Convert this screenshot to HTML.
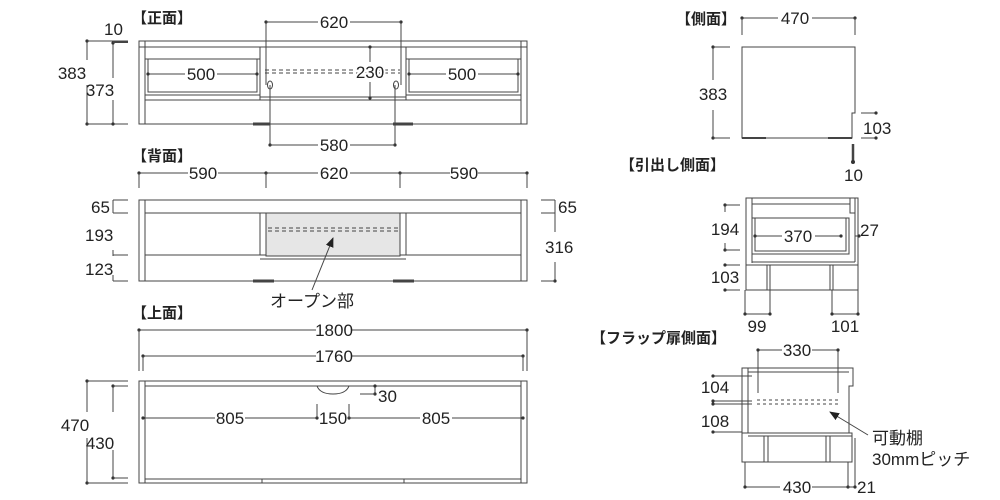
<!DOCTYPE html>
<html><head><meta charset="utf-8"><style>
body{margin:0;background:#fff}
svg{display:block}
text{font-family:"Liberation Sans","Noto Sans CJK JP",sans-serif;font-size:17px;fill:#222}
.t{font-weight:bold;font-size:15px}
</style></head><body>
<svg width="1000" height="500" viewBox="0 0 1000 500" xmlns="http://www.w3.org/2000/svg">
<defs><marker id="d" viewBox="0 0 4 4" refX="2" refY="2" markerWidth="4" markerHeight="4" markerUnits="userSpaceOnUse"><circle cx="2" cy="2" r="1.6" fill="#333"/></marker>
<marker id="ar" viewBox="0 0 10 10" refX="9" refY="5" markerWidth="10" markerHeight="10" orient="auto"><path d="M0,1 L10,5 L0,9 z" fill="#222"/></marker></defs>
<g stroke="#444" stroke-width="1" fill="none">
<!-- FRONT -->
<rect x="139" y="41" width="388" height="83"/>
<line x1="139" y1="47" x2="527" y2="47"/>
<line x1="145" y1="41" x2="145" y2="124"/><line x1="521" y1="41" x2="521" y2="124"/>
<rect x="145" y="59" width="115" height="36"/><rect x="148" y="59" width="109" height="33"/>
<rect x="406" y="59" width="115" height="36"/><rect x="409" y="59" width="109" height="33"/>
<line x1="260" y1="47" x2="260" y2="100"/><line x1="406" y1="47" x2="406" y2="100"/>
<line x1="145" y1="100" x2="521" y2="100"/><line x1="260" y1="97" x2="406" y2="97"/>
<line x1="253" y1="124" x2="270" y2="124" stroke-width="3"/><line x1="393" y1="124" x2="413" y2="124" stroke-width="3"/>
<ellipse cx="270" cy="85" rx="2.5" ry="4"/><ellipse cx="396" cy="85" rx="2.5" ry="4"/>
<line x1="265" y1="70" x2="400" y2="70" stroke-dasharray="4,3"/><line x1="265" y1="73" x2="400" y2="73" stroke-dasharray="4,3"/>
<line x1="266" y1="22" x2="266" y2="85" marker-start="url(#d)"/><line x1="401" y1="22" x2="401" y2="85" marker-start="url(#d)"/>
<line x1="266" y1="22" x2="318" y2="22"/><line x1="350" y1="22" x2="401" y2="22"/>
<line x1="270" y1="85" x2="270" y2="145" marker-end="url(#d)"/><line x1="395" y1="85" x2="395" y2="145" marker-end="url(#d)"/>
<line x1="270" y1="145" x2="318" y2="145"/><line x1="350" y1="145" x2="395" y2="145"/>
<line x1="370" y1="47" x2="370" y2="62" marker-start="url(#d)"/><line x1="370" y1="82" x2="370" y2="98" marker-end="url(#d)"/>
<line x1="148" y1="74" x2="185" y2="74" marker-start="url(#d)"/><line x1="217" y1="74" x2="257" y2="74" marker-end="url(#d)"/>
<line x1="409" y1="74" x2="446" y2="74" marker-start="url(#d)"/><line x1="478" y1="74" x2="518" y2="74" marker-end="url(#d)"/>
<line x1="87" y1="41" x2="87" y2="60" marker-start="url(#d)"/><line x1="87" y1="85" x2="87" y2="124" marker-end="url(#d)"/>
<line x1="87" y1="41" x2="128" y2="41"/><line x1="87" y1="124" x2="128" y2="124"/>
<line x1="113" y1="43" x2="113" y2="78" marker-start="url(#d)"/><line x1="113" y1="100" x2="113" y2="124" marker-end="url(#d)"/>
<line x1="113" y1="42" x2="128" y2="42" stroke-width="2"/>
<!-- BACK -->
<rect x="139" y="200" width="388" height="81"/>
<line x1="145" y1="200" x2="145" y2="281"/><line x1="521" y1="200" x2="521" y2="281"/>
<line x1="145" y1="213" x2="521" y2="213"/>
<line x1="145" y1="255" x2="521" y2="255"/><line x1="260" y1="259" x2="406" y2="259"/>
<rect x="266" y="213" width="134" height="43" fill="#e6e6e6"/>
<line x1="260" y1="213" x2="260" y2="255"/><line x1="406" y1="213" x2="406" y2="255"/>
<line x1="268" y1="228" x2="398" y2="228" stroke-dasharray="4,3"/><line x1="268" y1="231" x2="398" y2="231" stroke-dasharray="4,3"/>
<line x1="253" y1="281" x2="274" y2="281" stroke-width="3"/><line x1="393" y1="281" x2="414" y2="281" stroke-width="3"/>
<line x1="312" y1="290" x2="333" y2="238" marker-end="url(#ar)"/>
<line x1="139" y1="173" x2="188" y2="173" marker-start="url(#d)"/><line x1="218" y1="173" x2="266" y2="173" marker-end="url(#d)"/>
<line x1="266" y1="173" x2="318" y2="173"/><line x1="350" y1="173" x2="400" y2="173" marker-end="url(#d)"/>
<line x1="400" y1="173" x2="450" y2="173"/><line x1="478" y1="173" x2="527" y2="173" marker-end="url(#d)"/>
<line x1="139" y1="173" x2="139" y2="188"/><line x1="266" y1="173" x2="266" y2="188"/><line x1="400" y1="173" x2="400" y2="188"/><line x1="527" y1="173" x2="527" y2="188"/>
<line x1="113" y1="200" x2="113" y2="213"/><line x1="113" y1="250" x2="113" y2="256"/><line x1="113" y1="275" x2="113" y2="281"/>
<line x1="113" y1="200" x2="128" y2="200"/><line x1="113" y1="213" x2="128" y2="213"/><line x1="113" y1="255" x2="128" y2="255"/><line x1="113" y1="281" x2="128" y2="281"/>
<line x1="555" y1="200" x2="555" y2="232"/><line x1="555" y1="262" x2="555" y2="281" marker-end="url(#d)"/>
<line x1="541" y1="200" x2="555" y2="200"/><line x1="541" y1="213" x2="555" y2="213"/><line x1="541" y1="281" x2="555" y2="281"/>
<!-- TOP -->
<rect x="139" y="381" width="388" height="102"/>
<line x1="145" y1="381" x2="145" y2="483"/><line x1="521" y1="381" x2="521" y2="483"/>
<line x1="145" y1="386" x2="521" y2="386"/><line x1="145" y1="479" x2="521" y2="479"/>
<line x1="262" y1="479" x2="262" y2="483"/><line x1="404" y1="479" x2="404" y2="483"/>
<path d="M317,386 Q320,394 333,394 Q346,394 349,386"/>
<line x1="139" y1="330" x2="316" y2="330" marker-start="url(#d)"/><line x1="352" y1="330" x2="527" y2="330" marker-end="url(#d)"/>
<line x1="139" y1="330" x2="139" y2="371"/><line x1="527" y1="330" x2="527" y2="371"/>
<line x1="143" y1="356" x2="316" y2="356" marker-start="url(#d)"/><line x1="352" y1="356" x2="523" y2="356" marker-end="url(#d)"/>
<line x1="143" y1="356" x2="143" y2="371"/><line x1="523" y1="356" x2="523" y2="371"/>
<line x1="143" y1="418" x2="215" y2="418" marker-start="url(#d)"/><line x1="245" y1="418" x2="317" y2="418" marker-end="url(#d)"/>
<line x1="349" y1="418" x2="420" y2="418" marker-start="url(#d)"/><line x1="452" y1="418" x2="523" y2="418" marker-end="url(#d)"/>
<line x1="317" y1="404" x2="317" y2="418"/><line x1="349" y1="404" x2="349" y2="418"/>
<line x1="375" y1="386" x2="375" y2="394" marker-start="url(#d)" marker-end="url(#d)"/><line x1="360" y1="394" x2="375" y2="394"/>
<line x1="87" y1="381" x2="87" y2="412" marker-start="url(#d)"/><line x1="87" y1="438" x2="87" y2="483" marker-end="url(#d)"/>
<line x1="87" y1="381" x2="128" y2="381"/><line x1="87" y1="483" x2="128" y2="483"/>
<line x1="113" y1="386" x2="113" y2="412" marker-start="url(#d)"/><line x1="113" y1="450" x2="113" y2="478" marker-end="url(#d)"/>
<line x1="113" y1="386" x2="128" y2="386"/><line x1="113" y1="478" x2="128" y2="478"/>
<!-- SIDE -->
<path d="M742,47 H855 V113 H852 V138 H742 Z"/>
<line x1="742" y1="138" x2="766" y2="138" stroke-width="2"/><line x1="828" y1="138" x2="852" y2="138" stroke-width="2"/>
<line x1="742" y1="18" x2="778" y2="18" marker-start="url(#d)"/><line x1="812" y1="18" x2="855" y2="18" marker-end="url(#d)"/>
<line x1="742" y1="18" x2="742" y2="35"/><line x1="855" y1="18" x2="855" y2="35"/>
<line x1="713" y1="47" x2="713" y2="80" marker-start="url(#d)"/><line x1="713" y1="110" x2="713" y2="138" marker-end="url(#d)"/>
<line x1="713" y1="47" x2="730" y2="47"/><line x1="713" y1="138" x2="730" y2="138"/>
<line x1="861" y1="113" x2="876" y2="113" marker-end="url(#d)"/><line x1="861" y1="138" x2="876" y2="138" marker-end="url(#d)"/>
<line x1="853" y1="144" x2="853" y2="162" stroke-width="2.5"/>
<circle cx="853" cy="162" r="2" fill="#333" stroke="none"/>
<!-- DRAWER SIDE -->
<rect x="746" y="198" width="112" height="92"/>
<line x1="752" y1="198" x2="752" y2="263"/><line x1="752" y1="204" x2="850" y2="204"/>
<rect x="850" y="198" width="5" height="15"/>
<rect x="752" y="218" width="97" height="36"/><rect x="755" y="218" width="91" height="33"/>
<line x1="752" y1="262" x2="855" y2="262"/><line x1="855" y1="213" x2="855" y2="262"/>
<line x1="746" y1="265" x2="858" y2="265"/>
<line x1="770" y1="265" x2="770" y2="290"/><line x1="767" y1="265" x2="767" y2="290"/>
<line x1="830" y1="265" x2="830" y2="290"/><line x1="833" y1="265" x2="833" y2="290"/>
<line x1="755" y1="236" x2="782" y2="236" marker-start="url(#d)"/><line x1="815" y1="236" x2="841" y2="236" marker-end="url(#d)"/>
<line x1="855" y1="236" x2="859" y2="236" marker-end="url(#d)"/>
<line x1="725" y1="205" x2="725" y2="212" marker-start="url(#d)"/><line x1="725" y1="243" x2="725" y2="250" marker-end="url(#d)"/>
<line x1="725" y1="205" x2="740" y2="205"/><line x1="725" y1="250" x2="740" y2="250"/>
<line x1="725" y1="265" x2="740" y2="265" marker-start="url(#d)"/><line x1="725" y1="290" x2="740" y2="290" marker-start="url(#d)"/>
<line x1="745" y1="290" x2="745" y2="314"/><line x1="770" y1="290" x2="770" y2="314"/>
<line x1="832" y1="290" x2="832" y2="314"/><line x1="858" y1="290" x2="858" y2="314"/>
<line x1="745" y1="314" x2="770" y2="314" marker-start="url(#d)" marker-end="url(#d)"/>
<line x1="832" y1="314" x2="858" y2="314" marker-start="url(#d)" marker-end="url(#d)"/>
<!-- FLAP SIDE -->
<path d="M742,368 H853 V386 H849 V433 H852 V462 H742 Z"/>
<line x1="748" y1="368" x2="748" y2="433"/><line x1="748" y1="372" x2="849" y2="372"/>
<line x1="742" y1="433" x2="852" y2="433"/><line x1="748" y1="436" x2="852" y2="436"/>
<line x1="764" y1="436" x2="764" y2="462"/><line x1="768" y1="436" x2="768" y2="462"/>
<line x1="826" y1="436" x2="826" y2="462"/><line x1="830" y1="436" x2="830" y2="462"/>
<line x1="855" y1="438" x2="855" y2="487"/>
<line x1="757" y1="400" x2="838" y2="400" stroke-dasharray="3,3"/><line x1="757" y1="404" x2="838" y2="404" stroke-dasharray="3,3"/>
<line x1="758" y1="350" x2="758" y2="393"/><line x1="838" y1="350" x2="838" y2="393"/>
<line x1="758" y1="350" x2="782" y2="350" marker-start="url(#d)"/><line x1="812" y1="350" x2="838" y2="350" marker-end="url(#d)"/>
<line x1="713" y1="376" x2="752" y2="376" marker-start="url(#d)"/>
<line x1="713" y1="401" x2="752" y2="401" marker-start="url(#d)"/><line x1="713" y1="404" x2="752" y2="404" marker-start="url(#d)"/>
<line x1="713" y1="432" x2="742" y2="432" marker-start="url(#d)"/>
<line x1="868" y1="435" x2="830" y2="412" marker-end="url(#ar)"/>
<line x1="745" y1="462" x2="745" y2="487"/><line x1="848" y1="462" x2="848" y2="487"/>
<line x1="745" y1="487" x2="780" y2="487" marker-start="url(#d)"/><line x1="812" y1="487" x2="848" y2="487" marker-end="url(#d)"/>
<line x1="848" y1="487" x2="855" y2="487" marker-end="url(#d)"/>
</g>
<g>
<text x="132" y="23" class="t">【正面】</text>
<text x="104" y="35">10</text>
<text x="72" y="79" text-anchor="middle">383</text>
<text x="100" y="96" text-anchor="middle">373</text>
<text x="334" y="28" text-anchor="middle">620</text>
<text x="201" y="80" text-anchor="middle">500</text>
<text x="462" y="80" text-anchor="middle">500</text>
<text x="370" y="78" text-anchor="middle" style="paint-order:stroke;stroke:#fff;stroke-width:4px">230</text>
<text x="334" y="151" text-anchor="middle">580</text>
<text x="132" y="161" class="t">【背面】</text>
<text x="203" y="179" text-anchor="middle">590</text>
<text x="334" y="179" text-anchor="middle">620</text>
<text x="464" y="179" text-anchor="middle">590</text>
<text x="91" y="213">65</text>
<text x="85" y="241">193</text>
<text x="85" y="275">123</text>
<text x="558" y="213">65</text>
<text x="545" y="253">316</text>
<text x="312" y="307" text-anchor="middle">オープン部</text>
<text x="132" y="318" class="t">【上面】</text>
<text x="334" y="336" text-anchor="middle">1800</text>
<text x="334" y="362" text-anchor="middle">1760</text>
<text x="378" y="402">30</text>
<text x="230" y="424" text-anchor="middle">805</text>
<text x="333" y="424" text-anchor="middle">150</text>
<text x="436" y="424" text-anchor="middle">805</text>
<text x="75" y="431" text-anchor="middle">470</text>
<text x="100" y="449" text-anchor="middle">430</text>
<text x="676" y="24" class="t">【側面】</text>
<text x="795" y="24" text-anchor="middle">470</text>
<text x="713" y="100" text-anchor="middle" style="paint-order:stroke;stroke:#fff;stroke-width:5px">383</text>
<text x="863" y="134">103</text>
<text x="844" y="181">10</text>
<text x="620" y="170" class="t">【引出し側面】</text>
<text x="725" y="235" text-anchor="middle" style="paint-order:stroke;stroke:#fff;stroke-width:5px">194</text>
<text x="798" y="242" text-anchor="middle">370</text>
<text x="860" y="236">27</text>
<text x="725" y="283" text-anchor="middle" style="paint-order:stroke;stroke:#fff;stroke-width:5px">103</text>
<text x="757" y="332" text-anchor="middle">99</text>
<text x="845" y="332" text-anchor="middle">101</text>
<text x="591" y="343" class="t">【フラップ扉側面】</text>
<text x="797" y="356" text-anchor="middle">330</text>
<text x="715" y="393" text-anchor="middle">104</text>
<text x="715" y="427" text-anchor="middle">108</text>
<text x="872" y="444">可動棚</text>
<text x="872" y="465">30mmピッチ</text>
<text x="797" y="493" text-anchor="middle">430</text>
<text x="857" y="493">21</text>
</g>
</svg>
</body></html>
